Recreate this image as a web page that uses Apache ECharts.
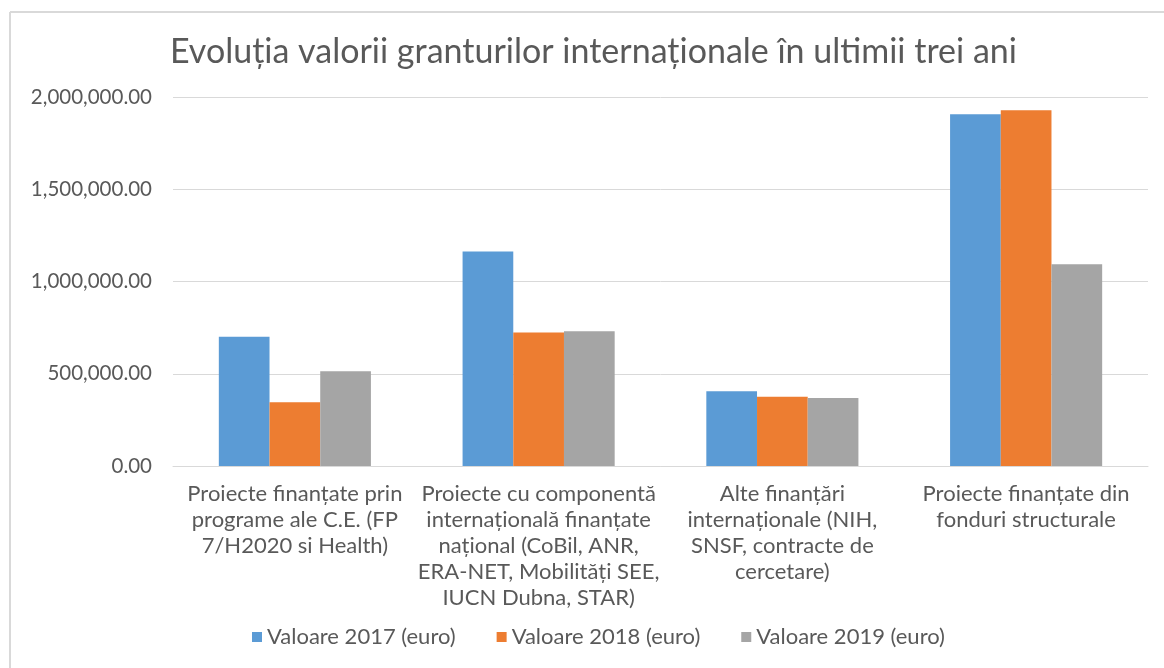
<!DOCTYPE html>
<html>
<head>
<meta charset="utf-8">
<script src="https://cdn.jsdelivr.net/npm/echarts@6/dist/echarts.min.js"></script>
<style>
  html, body { margin: 0; padding: 0; background: #fff; }
  #chart { width: 1164px; height: 668px; }
</style>
</head>
<body>
<div id="chart"></div>
<script>
  // categorii (cu rupturile de rand din original)
  var categories = [
    'Proiecte finanțate prin\nprograme ale C.E. (FP\n7/H2020 si Health)',
    'Proiecte cu componentă\ninternațională finanțate\nnațional (CoBil, ANR,\nERA-NET, Mobilități SEE,\nIUCN Dubna, STAR)',
    'Alte finanțări\ninternaționale (NIH,\nSNSF, contracte de\ncercetare)',
    'Proiecte finanțate din\nfonduri structurale'
  ];
  var seriesNames = ['Valoare 2017 (euro)', 'Valoare 2018 (euro)', 'Valoare 2019 (euro)'];
  var val2017 = [700000, 1163000, 405000, 1907000];
  var val2018 = [345000, 724000, 375000, 1928000];
  var val2019 = [513000, 731000, 368000, 1093000];
  var yTicks = [0, 500000, 1000000, 1500000, 2000000];

  var colors = ['#5b9bd5', '#ed7d31', '#a5a5a5'];
  var textColor = '#595959';
  var lineColor = '#d9d9d9';

  var chart = echarts.init(document.getElementById('chart'));

  function barSeries(name, data, color) {
    return {
      name: name,
      type: 'bar',
      data: data,
      barGap: '0%',
      barCategoryGap: '37.6%',
      itemStyle: { color: color }
    };
  }

  chart.setOption({
    animation: false,
    color: colors,
    title: {
      text: 'Evoluția valorii granturilor internaționale în ultimii trei ani',
      left: 165,
      top: 30,
      textStyle: {
        fontFamily: 'Lato',
        fontWeight: 'normal',
        fontSize: 34,
        color: textColor
      }
    },
    legend: {
      bottom: 15,
      left: 247,
      itemWidth: 10,
      itemHeight: 10,
      itemGap: 41,
      icon: 'rect',
      textStyle: { fontFamily: 'Lato', fontSize: 22, color: textColor },
      data: seriesNames
    },
    grid: {
      left: 173,
      right: 16,
      top: 97,
      bottom: 202
    },
    xAxis: {
      type: 'category',
      data: categories,
      axisLine: { lineStyle: { color: lineColor, width: 1 } },
      axisTick: { show: false },
      axisLabel: {
        interval: 0,
        margin: 15,
        lineHeight: 26,
        fontFamily: 'Lato',
        fontSize: 22,
        color: textColor,
        align: 'center'
      }
    },
    yAxis: {
      type: 'value',
      min: yTicks[0],
      max: yTicks[yTicks.length - 1],
      interval: 500000,
      axisLine: { show: false },
      axisTick: { show: false },
      splitLine: { lineStyle: { color: lineColor, width: 1 } },
      axisLabel: {
        margin: 21,
        fontFamily: 'Lato',
        fontSize: 20.5,
        color: textColor,
        formatter: function (v) {
          return v.toLocaleString('en-US', { minimumFractionDigits: 2, maximumFractionDigits: 2 });
        }
      }
    },
    graphic: [
      { type: 'line', shape: { x1: 10, y1: 12, x2: 1164, y2: 12 }, style: { stroke: lineColor, lineWidth: 2 } },
      { type: 'line', shape: { x1: 10, y1: 12, x2: 10, y2: 668 }, style: { stroke: lineColor, lineWidth: 2 } }
    ],
    series: [
      barSeries(seriesNames[0], val2017, colors[0]),
      barSeries(seriesNames[1], val2018, colors[1]),
      barSeries(seriesNames[2], val2019, colors[2])
    ]
  });
</script>
</body>
</html>
